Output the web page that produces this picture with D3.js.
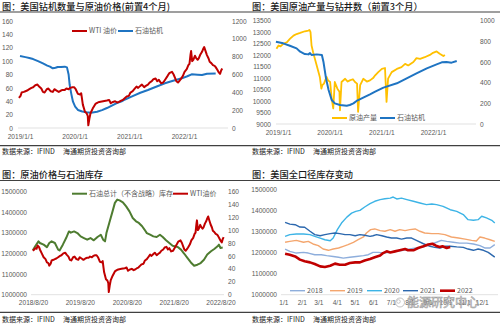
<!DOCTYPE html>
<html><head><meta charset="utf-8">
<script src="https://cdn.jsdelivr.net/npm/d3@7"></script>
<style>body{margin:0;background:#fff}svg{display:block}</style>
</head><body><svg id="c" width="500" height="326"></svg>
<script>
// ---------- DATA ----------
// WTI price (USD), [decimal year, value]
const wti = [[2018.63,68],[2018.66,70],[2018.68,72],[2018.71,71],[2018.73,76],[2018.76,74],[2018.78,70],[2018.82,64],[2018.86,58],[2018.9,55],[2018.93,50],[2018.96,49],[2018.98,45],[2019.01,48],[2019.03,53],[2019.07,54],[2019.10,55],[2019.13,56],[2019.17,58],[2019.21,60],[2019.24,61],[2019.28,64],[2019.32,65],[2019.35,62],[2019.39,59],[2019.42,54],[2019.45,53],[2019.49,58],[2019.52,59],[2019.56,55],[2019.6,54],[2019.63,58],[2019.67,56],[2019.71,54],[2019.75,56],[2019.78,57],[2019.82,57],[2019.85,59],[2019.89,58],[2019.92,60],[2019.96,61],[2019.99,61],[2020.02,58],[2020.06,51],[2020.1,50],[2020.12,52],[2020.15,35],[2020.19,24],[2020.22,22],[2020.24,18],[2020.25,4],[2020.27,14],[2020.29,22],[2020.33,29],[2020.38,36],[2020.42,38],[2020.45,39],[2020.52,40],[2020.59,41],[2020.63,42],[2020.66,37],[2020.7,39],[2020.74,40],[2020.78,38],[2020.81,39],[2020.85,41],[2020.88,42],[2020.92,45],[2020.95,47],[2020.99,48],[2021.02,53],[2021.06,55],[2021.09,58],[2021.13,62],[2021.16,60],[2021.2,63],[2021.23,65],[2021.27,61],[2021.3,63],[2021.34,65],[2021.37,68],[2021.41,70],[2021.44,73],[2021.48,74],[2021.51,70],[2021.54,72],[2021.58,67],[2021.62,68],[2021.66,73],[2021.7,78],[2021.73,82],[2021.78,84],[2021.81,80],[2021.83,76],[2021.86,70],[2021.89,68],[2021.92,71],[2021.94,73],[2021.98,78],[2022.01,84],[2022.05,88],[2022.08,94],[2022.1,96],[2022.12,110],[2022.13,115],[2022.15,100],[2022.17,102],[2022.2,108],[2022.22,105],[2022.25,102],[2022.27,104],[2022.3,110],[2022.33,114],[2022.35,118],[2022.37,121],[2022.39,116],[2022.42,109],[2022.45,104],[2022.47,99],[2022.5,97],[2022.53,94],[2022.56,93],[2022.58,91],[2022.61,87],[2022.63,84],[2022.66,81],[2022.68,86],[2022.7,89]];

// Oil rig count, panel 1 (WTI leading 4 months)
const rigLead4 = [[2019.0,807],[2019.1,795],[2019.17,785],[2019.24,773],[2019.33,750],[2019.42,725],[2019.5,700],[2019.55,688],[2019.6,669],[2019.65,675],[2019.69,684],[2019.75,683],[2019.82,688],[2019.86,680],[2019.89,600],[2019.91,482],[2019.94,380],[2019.97,295],[2020.01,240],[2020.06,202],[2020.14,185],[2020.22,176],[2020.3,172],[2020.41,182],[2020.5,200],[2020.59,224],[2020.68,252],[2020.77,280],[2020.86,300],[2020.92,320],[2021.05,355],[2021.2,395],[2021.34,426],[2021.5,465],[2021.65,501],[2021.8,530],[2021.96,557],[2022.06,580],[2022.14,602],[2022.25,598],[2022.33,594],[2022.42,609],[2022.58,612]];

// Crude production (kb/d) and rig count, panel 2 (3 months lead)
const production = [[2018.97,12274],[2019.01,12420],[2019.05,12380],[2019.10,12490],[2019.17,12560],[2019.23,12706],[2019.30,12850],[2019.36,12920],[2019.43,12966],[2019.52,13040],[2019.59,13070],[2019.61,13100],[2019.63,13000],[2019.65,12420],[2019.68,12130],[2019.75,11550],[2019.81,11050],[2019.84,10540],[2019.86,10700],[2019.89,10760],[2019.94,11050],[2019.97,10900],[2020.01,10830],[2020.04,10110],[2020.07,9676],[2020.10,10830],[2020.15,10540],[2020.19,10400],[2020.20,9600],[2020.23,10830],[2020.30,10970],[2020.35,10850],[2020.39,10900],[2020.45,10950],[2020.49,10830],[2020.53,10760],[2020.55,9530],[2020.59,10690],[2020.65,10970],[2020.72,10850],[2020.78,10900],[2020.84,11000],[2020.88,11120],[2020.94,11260],[2021.01,11400],[2021.07,11440],[2021.10,9965],[2021.13,10975],[2021.20,11260],[2021.30,11400],[2021.39,11480],[2021.46,11620],[2021.52,11550],[2021.62,11700],[2021.68,11870],[2021.75,11840],[2021.84,11910],[2021.94,12010],[2022.00,12100],[2022.07,12160],[2022.13,12060],[2022.20,11960],[2022.23,12010]];
const rigLead3 = [[2018.96,797],[2019.10,781],[2019.23,758],[2019.36,732],[2019.43,700],[2019.52,677],[2019.59,674],[2019.62,687],[2019.65,668],[2019.75,674],[2019.85,668],[2019.88,603],[2019.93,442],[2019.98,329],[2020.04,232],[2020.10,200],[2020.20,184],[2020.33,177],[2020.39,184],[2020.46,200],[2020.52,223],[2020.65,255],[2020.78,287],[2020.88,313],[2021.04,352],[2021.30,394],[2021.49,442],[2021.68,490],[2021.88,539],[2022.07,577],[2022.17,597],[2022.26,600],[2022.36,594],[2022.46,610]];

// Total petroleum stocks excl. SPR (kb)
const stocks = [[2018.63,1214500],[2018.68,1234000],[2018.75,1258000],[2018.78,1250000],[2018.86,1242000],[2018.93,1230000],[2018.98,1250000],[2019.03,1258000],[2019.10,1250000],[2019.17,1218000],[2019.20,1214000],[2019.27,1242000],[2019.34,1274000],[2019.40,1306000],[2019.44,1300000],[2019.51,1306000],[2019.58,1298000],[2019.65,1282000],[2019.72,1274000],[2019.79,1266000],[2019.86,1274000],[2019.93,1263000],[2020.01,1279000],[2020.08,1290000],[2020.13,1266000],[2020.17,1258000],[2020.20,1298000],[2020.26,1347000],[2020.33,1403000],[2020.38,1444000],[2020.43,1460000],[2020.48,1456000],[2020.55,1447000],[2020.62,1427000],[2020.69,1403000],[2020.76,1371000],[2020.83,1355000],[2020.89,1347000],[2020.96,1331000],[2021.01,1315000],[2021.06,1298000],[2021.13,1290000],[2021.20,1282000],[2021.27,1279000],[2021.34,1290000],[2021.40,1279000],[2021.47,1263000],[2021.54,1250000],[2021.61,1237000],[2021.72,1231000],[2021.79,1218000],[2021.86,1198000],[2021.93,1177000],[2022.00,1156000],[2022.07,1140000],[2022.14,1145000],[2022.21,1153000],[2022.28,1169000],[2022.35,1194000],[2022.43,1210000],[2022.50,1221000],[2022.57,1234000],[2022.60,1242000],[2022.63,1226000],[2022.68,1228000]];

// Seasonal total stocks, [day of year, value]
const s2018 = [[3,1216000],[11,1205000],[22,1197000],[34,1200000],[42,1197000],[53,1189000],[64,1189000],[73,1185000],[84,1181000],[93,1177000],[101,1173000],[112,1177000],[123,1181000],[135,1185000],[143,1189000],[151,1200000],[160,1200000],[168,1197000],[180,1200000],[191,1205000],[202,1210000],[213,1216000],[224,1221000],[236,1226000],[247,1237000],[258,1248000],[266,1257000],[275,1252000],[286,1248000],[297,1244000],[309,1244000],[320,1240000],[331,1232000],[339,1221000],[348,1221000],[356,1237000]];
const s2019 = [[3,1248000],[11,1252000],[22,1257000],[34,1248000],[42,1252000],[50,1240000],[59,1232000],[67,1216000],[76,1210000],[84,1216000],[93,1221000],[101,1229000],[109,1237000],[118,1248000],[126,1260000],[135,1273000],[140,1292000],[147,1308000],[154,1311000],[163,1303000],[171,1300000],[180,1308000],[188,1300000],[196,1308000],[205,1303000],[213,1308000],[222,1311000],[230,1300000],[238,1292000],[250,1289000],[261,1289000],[272,1284000],[283,1273000],[295,1268000],[306,1263000],[317,1257000],[325,1254000],[331,1273000],[339,1268000],[348,1260000],[356,1252000]];
const s2020 = [[3,1276000],[11,1284000],[22,1287000],[34,1287000],[45,1284000],[53,1276000],[62,1268000],[70,1260000],[79,1255000],[84,1268000],[91,1308000],[98,1339000],[107,1367000],[115,1386000],[122,1394000],[129,1399000],[137,1415000],[146,1431000],[154,1442000],[163,1450000],[171,1454000],[180,1457000],[185,1462000],[191,1453000],[199,1457000],[208,1450000],[219,1442000],[230,1434000],[241,1426000],[250,1429000],[258,1426000],[269,1418000],[281,1402000],[292,1394000],[303,1379000],[311,1355000],[320,1352000],[328,1355000],[334,1371000],[342,1363000],[351,1352000],[356,1339000]];
const s2021 = [[3,1342000],[11,1334000],[20,1331000],[28,1320000],[36,1319000],[45,1300000],[53,1284000],[62,1279000],[70,1284000],[79,1289000],[87,1292000],[95,1289000],[104,1284000],[112,1284000],[121,1279000],[129,1284000],[137,1281000],[146,1276000],[151,1279000],[157,1284000],[166,1279000],[174,1273000],[182,1268000],[191,1268000],[199,1263000],[208,1268000],[216,1268000],[224,1257000],[236,1241000],[247,1229000],[255,1224000],[264,1221000],[272,1229000],[281,1229000],[292,1226000],[303,1224000],[311,1216000],[320,1210000],[328,1216000],[337,1210000],[345,1200000],[356,1178000]];
const s2022 = [[3,1194000],[11,1189000],[20,1181000],[28,1166000],[36,1158000],[45,1153000],[53,1145000],[62,1134000],[70,1131000],[79,1137000],[87,1147000],[95,1142000],[104,1142000],[112,1150000],[121,1153000],[129,1153000],[137,1162000],[146,1169000],[154,1177000],[163,1185000],[168,1197000],[174,1205000],[180,1200000],[188,1205000],[196,1210000],[205,1216000],[210,1210000],[219,1210000],[227,1221000],[236,1229000],[244,1237000],[251,1241000],[257,1232000],[263,1226000],[268,1229000],[275,1221000],[281,1226000]];

// Tick values / labels
const p1Left = [0,20,40,60,80,100,120,140,160];
const p1Right = [0,200,400,600,800,1000,1200];
const p1Years = [2019,2020,2021,2022];
const p2Left = [9000,9500,10000,10500,11000,11500,12000,12500,13000,13500];
const p2Right = [0,200,400,600,800,1000];
const p3Left = [1000000,1100000,1200000,1300000,1400000,1500000];
const p3Right = [0,20,40,60,80,100,120,140,160];
const p3Years = [2018,2019,2020,2021,2022];
const p4Left = [1000000,1100000,1200000,1300000,1400000,1500000];
const p4Months = [[0,"1/1"],[31,"2/1"],[59,"3/1"],[90,"4/1"],[120,"5/1"],[151,"6/1"],[181,"7/1"],[212,"8/1"],[243,"9/1"],[273,"10/1"],[304,"11/1"],[334,"12/1"]];

// ---------- DRAW ----------
const FONT = "'Noto Sans CJK SC','Noto Sans',sans-serif";
const svg = d3.select("#c");
svg.append("rect").attr("width",500).attr("height",326).attr("fill","#fff");
const RED="#C00000", BLUE="#1F74C2", YEL="#FFC000", GRN="#4E7C30", TXT="#595959";
const fmt = d3.format("d");

function dy(t){const y=Math.floor(t);const s=new Date(y,0,1),e=new Date(y+1,0,1);return new Date(+s+(t-y)*(e-s));}

function frame(x0, w, titleY, title, lineY, footLineY, footY){
  svg.append("text").attr("x",x0+2).attr("y",titleY).attr("font-family",FONT).attr("font-size",9.2).attr("font-weight",500).attr("fill","#1a1a1a").text(title);
  svg.append("line").attr("x1",x0).attr("x2",x0+w).attr("y1",lineY).attr("y2",lineY).attr("stroke","#404040").attr("stroke-width",1.2);
  svg.append("line").attr("x1",x0).attr("x2",x0+w).attr("y1",footLineY).attr("y2",footLineY).attr("stroke","#404040").attr("stroke-width",1.2);
  const f = svg.append("text").attr("y",footY).attr("font-family",FONT).attr("font-size",7).attr("fill","#1a1a1a");
  f.append("tspan").attr("x",x0+2).text("数据来源：IFIND");
  f.append("tspan").attr("x",x0+63).text("海通期货投资咨询部");
}
function styleAxis(g){
  g.select(".domain").remove();
  g.selectAll("text").attr("font-family","'Liberation Sans',Arial,sans-serif").attr("font-size",6.6).attr("fill",TXT);
}
function line(xs, ys, data, xf){
  return d3.line().x(d=>xs(xf(d[0]))).y(d=>ys(d[1]))(data);
}
function path(d, color, w){
  svg.append("path").attr("d",d).attr("fill","none").attr("stroke",color).attr("stroke-width",w).attr("stroke-linejoin","round");
}
function legendItem(x, y, color, label, w){
  svg.append("line").attr("x1",x).attr("x2",x+15).attr("y1",y).attr("y2",y).attr("stroke",color).attr("stroke-width",w||2);
  svg.append("text").attr("x",x+17).attr("y",y+2.4).attr("font-family",FONT).attr("font-size",7).attr("fill",TXT).text(label);
}

// ===== Panel 1 =====
frame(0,250,9.8,"图：美国钻机数量与原油价格(前置4个月)",12,145.7,153.5);
{
  const x = d3.scaleTime().domain([dy(2019),dy(2022)]).range([20,184]);
  const yL = d3.scaleLinear().domain([0,160]).range([128,21]);
  const yR = d3.scaleLinear().domain([0,1200]).range([128,21]);
  svg.append("line").attr("x1",18).attr("x2",228).attr("y1",128).attr("y2",128).attr("stroke","#d9d9d9").attr("stroke-width",0.8);
  svg.append("g").attr("transform","translate(15,0)").call(d3.axisLeft(yL).tickValues(p1Left).tickFormat(fmt).tickSize(0).tickPadding(2)).call(styleAxis);
  svg.append("g").attr("transform","translate(230,0)").call(d3.axisRight(yR).tickValues(p1Right).tickFormat(fmt).tickSize(0).tickPadding(2)).call(styleAxis);
  svg.append("g").attr("transform","translate(0,128)").call(d3.axisBottom(x).tickValues(p1Years.map(y=>new Date(y,0,1))).tickFormat(d3.timeFormat("%Y/%-m/%-d")).tickSize(0).tickPadding(6)).call(styleAxis);
  path(line(x,yR,rigLead4,dy),BLUE,2);
  path(line(x,yL,wti.filter(d=>d[0]>=2018.98),dy),RED,2);
  legendItem(72,31,RED,"WTI 油价");
  legendItem(118,31,BLUE,"石油钻机");
}

// ===== Panel 2 =====
frame(250,250,9.8,"图：美国原油产量与钻井数（前置3个月）",12,145.7,153.5);
{
  const x = d3.scaleTime().domain([dy(2019),dy(2022)]).range([278,433]);
  const yL = d3.scaleLinear().domain([9000,13500]).range([124,20.7]);
  const yR = d3.scaleLinear().domain([0,1000]).range([124,20.7]);
  svg.append("line").attr("x1",276).attr("x2",476).attr("y1",124).attr("y2",124).attr("stroke","#d9d9d9").attr("stroke-width",0.8);
  svg.append("g").attr("transform","translate(273,0)").call(d3.axisLeft(yL).tickValues(p2Left).tickFormat(fmt).tickSize(0).tickPadding(2)).call(styleAxis);
  svg.append("g").attr("transform","translate(478,0)").call(d3.axisRight(yR).tickValues(p2Right).tickFormat(fmt).tickSize(0).tickPadding(2)).call(styleAxis);
  svg.append("g").attr("transform","translate(0,124)").call(d3.axisBottom(x).tickValues(p1Years.map(y=>new Date(y,0,1))).tickFormat(d3.timeFormat("%Y/%-m/%-d")).tickSize(0).tickPadding(6)).call(styleAxis);
  path(line(x,yL,production,dy),YEL,1.8);
  path(line(x,yR,rigLead3,dy),BLUE,2);
  legendItem(332,118,YEL,"原油产量");
  legendItem(380,118,BLUE,"石油钻机");
}

// ===== Panel 3 =====
frame(0,250,177.5,"图：原油价格与石油库存",180.5,312.3,322);
{
  const x = d3.scaleTime().domain([new Date(2018,7,20),new Date(2022,7,20)]).range([33,220.5]);
  const yL = d3.scaleLinear().domain([1000000,1500000]).range([294.7,191.3]);
  const yR = d3.scaleLinear().domain([0,160]).range([294.7,191.3]);
  svg.append("line").attr("x1",31).attr("x2",224).attr("y1",294.7).attr("y2",294.7).attr("stroke","#d9d9d9").attr("stroke-width",0.8);
  svg.append("g").attr("transform","translate(29,0)").call(d3.axisLeft(yL).tickValues(p3Left).tickFormat(fmt).tickSize(0).tickPadding(2)).call(styleAxis);
  svg.append("g").attr("transform","translate(226,0)").call(d3.axisRight(yR).tickValues(p3Right).tickFormat(fmt).tickSize(0).tickPadding(2)).call(styleAxis);
  svg.append("g").attr("transform","translate(0,294.7)").call(d3.axisBottom(x).tickValues(p3Years.map(y=>new Date(y,7,20))).tickFormat(d3.timeFormat("%Y/%-m/%-d")).tickSize(0).tickPadding(6)).call(styleAxis);
  path(line(x,yL,stocks,dy),GRN,2);
  path(line(x,yR,wti,dy),RED,2);
  legendItem(72,193.7,GRN,"石油总计（不含战略）库存");
  legendItem(173,193.7,RED,"WTI油价");
}

// ===== Panel 4 =====
frame(250,250,177.5,"图：美国全口径库存变动",180.5,312.3,322);
{
  const x = d3.scaleLinear().domain([0,334]).range([283.3,481.7]);
  const y = d3.scaleLinear().domain([1000000,1500000]).range([294.7,189]);
  svg.append("line").attr("x1",281).attr("x2",498).attr("y1",294.7).attr("y2",294.7).attr("stroke","#d9d9d9").attr("stroke-width",0.8);
  svg.append("g").attr("transform","translate(279,0)").call(d3.axisLeft(y).tickValues(p4Left).tickFormat(fmt).tickSize(0).tickPadding(2)).call(styleAxis);
  svg.append("g").attr("transform","translate(0,294.7)").call(d3.axisBottom(x).tickValues(p4Months.map(d=>d[0])).tickFormat((d,i)=>p4Months[i][1]).tickSize(0).tickPadding(6)).call(styleAxis);
  const series = [[s2018,"#8EAEDC",1.4,"2018"],[s2019,"#F4A66E",1.4,"2019"],[s2020,"#3DB4E6",1.4,"2020"],[s2021,"#2C68AE",1.4,"2021"],[s2022,"#C00000",2.6,"2022"]];
  series.forEach(s=>path(line(x,y,s[0],d=>d),s[1],s[2]));
  const lx=[290,330,367,403,440];
  series.forEach((s,i)=>legendItem(lx[i],290.7,s[1],s[3],s[2]));
  // watermark
  const wm = svg.append("g").attr("opacity",0.85);
  wm.append("circle").attr("cx",400).attr("cy",302.5).attr("r",4.5).attr("fill","#fff").attr("stroke","#9a9a9a").attr("stroke-width",0.7);
  wm.append("circle").attr("cx",398.5).attr("cy",301.5).attr("r",1.8).attr("fill","none").attr("stroke","#9a9a9a").attr("stroke-width",0.6);
  wm.append("text").attr("x",407).attr("y",307).attr("font-family",FONT).attr("font-size",12).attr("fill","#ffffff").attr("stroke","#8c8c8c").attr("stroke-width",0.6).text("能源研究中心");
}
</script></body></html>
